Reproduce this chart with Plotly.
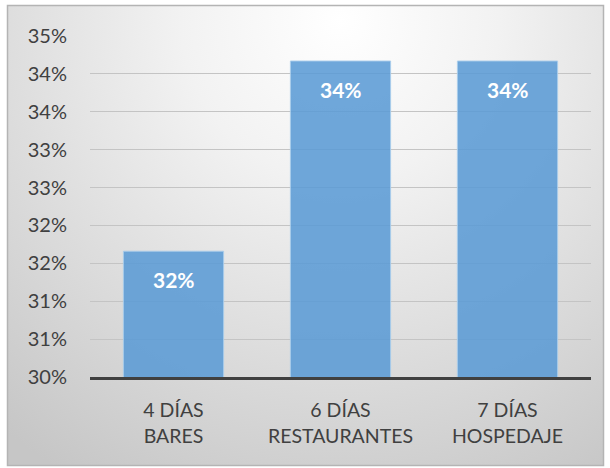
import base64
import plotly.graph_objects as go

categories = ["4 DÍAS<br>BARES", "6 DÍAS<br>RESTAURANTES", "7 DÍAS<br>HOSPEDAJE"]
values = [0.3166, 0.3417, 0.3417]
labels = ["32%", "34%", "34%"]
tick_vals = [0.30, 0.305, 0.31, 0.315, 0.32, 0.325, 0.33, 0.335, 0.34, 0.345]
tick_text = ["30%", "31%", "31%", "32%", "32%", "33%", "33%", "34%", "34%", "35%"]

W, H = 610, 468
L, R, T, B = 90, 19, 36, 91
pw, ph = W - L - R, H - T - B

svg = f'''<svg xmlns="http://www.w3.org/2000/svg" width="{W}" height="{H}" viewBox="0 0 {W} {H}">
<defs><radialGradient id="g" gradientUnits="userSpaceOnUse" cx="340" cy="20" r="530">
<stop offset="0" stop-color="#ffffff"/><stop offset="0.3" stop-color="#f2f2f2"/>
<stop offset="0.7" stop-color="#d9d9d9"/><stop offset="1" stop-color="#c6c6c6"/></radialGradient></defs>
<rect x="0" y="0" width="{W}" height="{H}" fill="#ffffff"/>
<rect x="7.5" y="5.5" width="596" height="460" fill="url(#g)" stroke="#b4b4b4" stroke-width="1.5"/>
</svg>'''
src = "data:image/svg+xml;base64," + base64.b64encode(svg.encode()).decode()

fig = go.Figure()
fig.add_trace(go.Bar(
    x=categories, y=values,
    marker=dict(color="rgba(91,155,213,0.88)", line=dict(color="rgba(170,205,235,0.9)", width=1)),
    hoverinfo="skip",
))
for c, v, t in zip(categories, values, labels):
    fig.add_annotation(x=c, y=v, text=f"<b>{t}</b>", showarrow=False, yanchor="top", yshift=-14,
                       font=dict(family="Lato, Open Sans, sans-serif", size=21, color="white"))

fig.add_layout_image(dict(source=src, xref="paper", yref="paper",
                          x=-L / pw, y=1 + T / ph, sizex=W / pw, sizey=H / ph,
                          xanchor="left", yanchor="top", sizing="stretch", layer="below"))

fig.update_layout(
    width=W, height=H, margin=dict(l=L, r=R, t=T, b=B),
    paper_bgcolor="white", plot_bgcolor="rgba(0,0,0,0)",
    bargap=0.4, showlegend=False,
    font=dict(family="Lato, Open Sans, sans-serif", size=19, color="#404040"),
)
fig.update_yaxes(range=[0.30, 0.345], tickvals=tick_vals, ticktext=tick_text,
                 tickfont=dict(size=20),
                 showgrid=True, gridcolor="#c4c4c4", gridwidth=1, zeroline=False,
                 showline=False, ticks="", ticklen=0, ticklabelstandoff=22)
fig.update_xaxes(showline=True, linecolor="#404040", linewidth=3, ticks="",
                 tickfont=dict(size=19.5),
                 showgrid=False, ticklabelstandoff=14)

fig.write_html("out.html", config={"displayModeBar": False},
               post_script="document.body.style.margin='0';document.body.style.padding='0';")
